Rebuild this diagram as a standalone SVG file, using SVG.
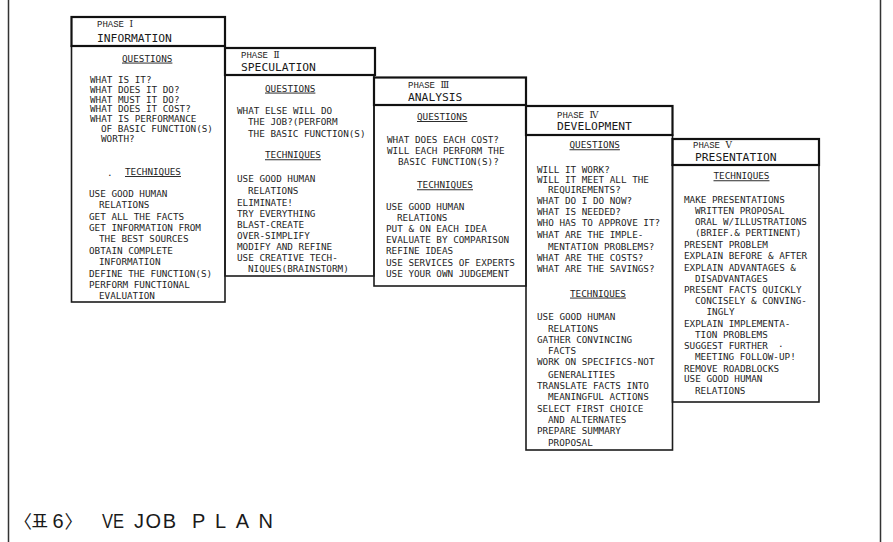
<svg xmlns="http://www.w3.org/2000/svg" width="893" height="542" viewBox="0 0 893 542">
<style>
.box{fill:none;stroke:#1c1c1c;stroke-width:1.6}
.hdr{fill:none;stroke:#111;stroke-width:2.2}
.frame{stroke:#333;stroke-width:1.5}
.t{font-family:"DejaVu Sans Mono","Liberation Mono",monospace;font-size:9.3px;fill:#1e1e1e}
.h{font-family:"DejaVu Sans Mono","Liberation Mono",monospace;font-size:11.3px;fill:#1a1a1a}
.p{font-family:"Liberation Mono","DejaVu Serif",monospace;font-size:9px;fill:#222}
.u{text-decoration:underline}
.cap{font-family:"Liberation Sans","Noto Sans CJK KR",sans-serif;font-size:20px;fill:#1a1a1a}
.capk{font-family:"Noto Sans CJK KR",sans-serif;font-size:18px;fill:#1a1a1a}
</style>
<rect width="893" height="542" fill="#fff"/>
<g id="frame">
<line class="frame" x1="8.5" y1="0" x2="8.5" y2="542"/>
<line class="frame" x1="880.5" y1="0" x2="880.5" y2="542"/>
</g>
<g id="connectors"/>
<g id="phase1">
<rect class="box" x="71.5" y="46" width="153.5" height="256"/>
<rect class="hdr" x="71.5" y="17" width="153.5" height="29"/>
<text class="p" x="97" y="27">PHASE Ⅰ</text>
<text class="h" x="97" y="42">INFORMATION</text>
<text class="t u" x="122" y="61.6">QUESTIONS</text>
<text class="t">
<tspan x="90" y="83">WHAT IS IT?</tspan>
<tspan x="90" y="92.8">WHAT DOES IT DO?</tspan>
<tspan x="90" y="102.6">WHAT MUST IT DO?</tspan>
<tspan x="90" y="112.4">WHAT DOES IT COST?</tspan>
<tspan x="90" y="122.2">WHAT IS PERFORMANCE</tspan>
<tspan x="101" y="132">OF BASIC FUNCTION(S)</tspan>
<tspan x="101" y="141.8">WORTH?</tspan>
</text>
<text class="t" x="107" y="176">.</text>
<text class="t u" x="125" y="175">TECHNIQUES</text>
<text class="t">
<tspan x="89" y="196.6">USE GOOD HUMAN</tspan>
<tspan x="99" y="208">RELATIONS</tspan>
<tspan x="89" y="219.5">GET ALL THE FACTS</tspan>
<tspan x="89" y="231">GET INFORMATION FROM</tspan>
<tspan x="99" y="242.4">THE BEST SOURCES</tspan>
<tspan x="89" y="253.8">OBTAIN COMPLETE</tspan>
<tspan x="99" y="265.2">INFORMATION</tspan>
<tspan x="89" y="276.6">DEFINE THE FUNCTION(S)</tspan>
<tspan x="89" y="288">PERFORM FUNCTIONAL</tspan>
<tspan x="99" y="299.4">EVALUATION</tspan>
</text>
</g>
<g id="phase2">
<rect class="box" x="225" y="75" width="149" height="201"/>
<rect class="hdr" x="225" y="48" width="150" height="27"/>
<text class="p" x="241" y="58">PHASE Ⅱ</text>
<text class="h" x="241" y="70.8">SPECULATION</text>
<text class="t u" x="265" y="91.6">QUESTIONS</text>
<text class="t">
<tspan x="237" y="114">WHAT ELSE WILL DO</tspan>
<tspan x="248" y="125">THE JOB?(PERFORM</tspan>
<tspan x="248" y="136.6">THE BASIC FUNCTION(S)</tspan>
</text>
<text class="t u" x="265" y="158.3">TECHNIQUES</text>
<text class="t">
<tspan x="237" y="182.3">USE GOOD HUMAN</tspan>
<tspan x="248" y="194">RELATIONS</tspan>
<tspan x="237" y="205.6">ELIMINATE!</tspan>
<tspan x="237" y="216.6">TRY EVERYTHING</tspan>
<tspan x="237" y="227.6">BLAST-CREATE</tspan>
<tspan x="237" y="239">OVER-SIMPLIFY</tspan>
<tspan x="237" y="250">MODIFY AND REFINE</tspan>
<tspan x="237" y="261">USE CREATIVE TECH-</tspan>
<tspan x="248" y="272.3">NIQUES(BRAINSTORM)</tspan>
</text>
</g>
<g id="phase3">
<rect class="box" x="374" y="105" width="152" height="181"/>
<rect class="hdr" x="374" y="77.5" width="152" height="27.5"/>
<text class="p" x="408" y="88">PHASE Ⅲ</text>
<text class="h" x="408" y="100.8">ANALYSIS</text>
<text class="t u" x="417" y="120">QUESTIONS</text>
<text class="t">
<tspan x="387" y="143.3">WHAT DOES EACH COST?</tspan>
<tspan x="387" y="154.3">WILL EACH PERFORM THE</tspan>
<tspan x="398" y="165">BASIC FUNCTION(S)?</tspan>
</text>
<text class="t u" x="417" y="188.3">TECHNIQUES</text>
<text class="t">
<tspan x="386" y="210">USE GOOD HUMAN</tspan>
<tspan x="397" y="220.6">RELATIONS</tspan>
<tspan x="386" y="231.6">PUT &amp; ON EACH IDEA</tspan>
<tspan x="386" y="243.3">EVALUATE BY COMPARISON</tspan>
<tspan x="386" y="254.3">REFINE IDEAS</tspan>
<tspan x="386" y="266">USE SERVICES OF EXPERTS</tspan>
<tspan x="386" y="276.6">USE YOUR OWN JUDGEMENT</tspan>
</text>
</g>
<g id="phase4">
<rect class="box" x="526" y="135" width="146.5" height="315"/>
<rect class="hdr" x="526" y="106" width="146.5" height="29"/>
<text class="p" x="557" y="118">PHASE Ⅳ</text>
<text class="h" x="557" y="130">DEVELOPMENT</text>
<text class="t u" x="569.5" y="148.3">QUESTIONS</text>
<text class="t">
<tspan x="537" y="173.3">WILL IT WORK?</tspan>
<tspan x="537" y="183.3">WILL IT MEET ALL THE</tspan>
<tspan x="548" y="193.3">REQUIREMENTS?</tspan>
<tspan x="537" y="204">WHAT DO I DO NOW?</tspan>
<tspan x="537" y="215">WHAT IS NEEDED?</tspan>
<tspan x="537" y="226">WHO HAS TO APPROVE IT?</tspan>
<tspan x="537" y="238.3">WHAT ARE THE IMPLE-</tspan>
<tspan x="548" y="250">MENTATION PROBLEMS?</tspan>
<tspan x="537" y="260.6">WHAT ARE THE COSTS?</tspan>
<tspan x="537" y="271.6">WHAT ARE THE SAVINGS?</tspan>
</text>
<text class="t u" x="570" y="296.6">TECHNIQUES</text>
<text class="t">
<tspan x="537" y="320">USE GOOD HUMAN</tspan>
<tspan x="548" y="331.6">RELATIONS</tspan>
<tspan x="537" y="342.6">GATHER CONVINCING</tspan>
<tspan x="548" y="354">FACTS</tspan>
<tspan x="537" y="365">WORK ON SPECIFICS-NOT</tspan>
<tspan x="548" y="378.3">GENERALITIES</tspan>
<tspan x="537" y="389.3">TRANSLATE FACTS INTO</tspan>
<tspan x="548" y="400">MEANINGFUL ACTIONS</tspan>
<tspan x="537" y="411.6">SELECT FIRST CHOICE</tspan>
<tspan x="548" y="423.3">AND ALTERNATES</tspan>
<tspan x="537" y="434">PREPARE SUMMARY</tspan>
<tspan x="548" y="446">PROPOSAL</tspan>
</text>
</g>
<g id="phase5">
<rect class="box" x="672.5" y="165" width="146.5" height="237"/>
<rect class="hdr" x="672.5" y="139" width="146.5" height="26"/>
<text class="p" x="693" y="148">PHASE Ⅴ</text>
<text class="h" x="695" y="160.5">PRESENTATION</text>
<text class="t u" x="713.5" y="179.3">TECHNIQUES</text>
<text class="t">
<tspan x="684" y="202.6">MAKE PRESENTATIONS</tspan>
<tspan x="695" y="214">WRITTEN PROPOSAL</tspan>
<tspan x="695" y="225">ORAL W/ILLUSTRATIONS</tspan>
<tspan x="695" y="236">(BRIEF.&amp; PERTINENT)</tspan>
<tspan x="684" y="247.6">PRESENT PROBLEM</tspan>
<tspan x="684" y="259.3">EXPLAIN BEFORE &amp; AFTER</tspan>
<tspan x="684" y="270.6">EXPLAIN ADVANTAGES &amp;</tspan>
<tspan x="695" y="281.6">DISADVANTAGES</tspan>
<tspan x="684" y="292.6">PRESENT FACTS QUICKLY</tspan>
<tspan x="695" y="304">CONCISELY &amp; CONVING-</tspan>
<tspan x="706.5" y="315">INGLY</tspan>
<tspan x="684" y="326.6">EXPLAIN IMPLEMENTA-</tspan>
<tspan x="695" y="337.6">TION PROBLEMS</tspan>
<tspan x="684" y="349">SUGGEST FURTHER</tspan><tspan x="778" y="347">.</tspan>
<tspan x="695" y="360">MEETING FOLLOW-UP!</tspan>
<tspan x="684" y="371.6">REMOVE ROADBLOCKS</tspan>
<tspan x="684" y="382.3">USE GOOD HUMAN</tspan>
<tspan x="695" y="394">RELATIONS</tspan>
</text>
</g>
<g id="caption">
<text class="capk" x="14" y="528">〈</text>
<text class="capk" x="31.5" y="528">표</text>
<text class="cap" x="52.5" y="528">6</text>
<text class="capk" x="64.5" y="528">〉</text>
<text class="cap" x="102" y="528" textLength="22" lengthAdjust="spacingAndGlyphs">VE</text>
<text class="cap" x="134" y="528" textLength="42" lengthAdjust="spacing">JOB</text>
<text class="cap" x="192" y="528" textLength="81" lengthAdjust="spacing">PLAN</text>
</g>
</svg>
